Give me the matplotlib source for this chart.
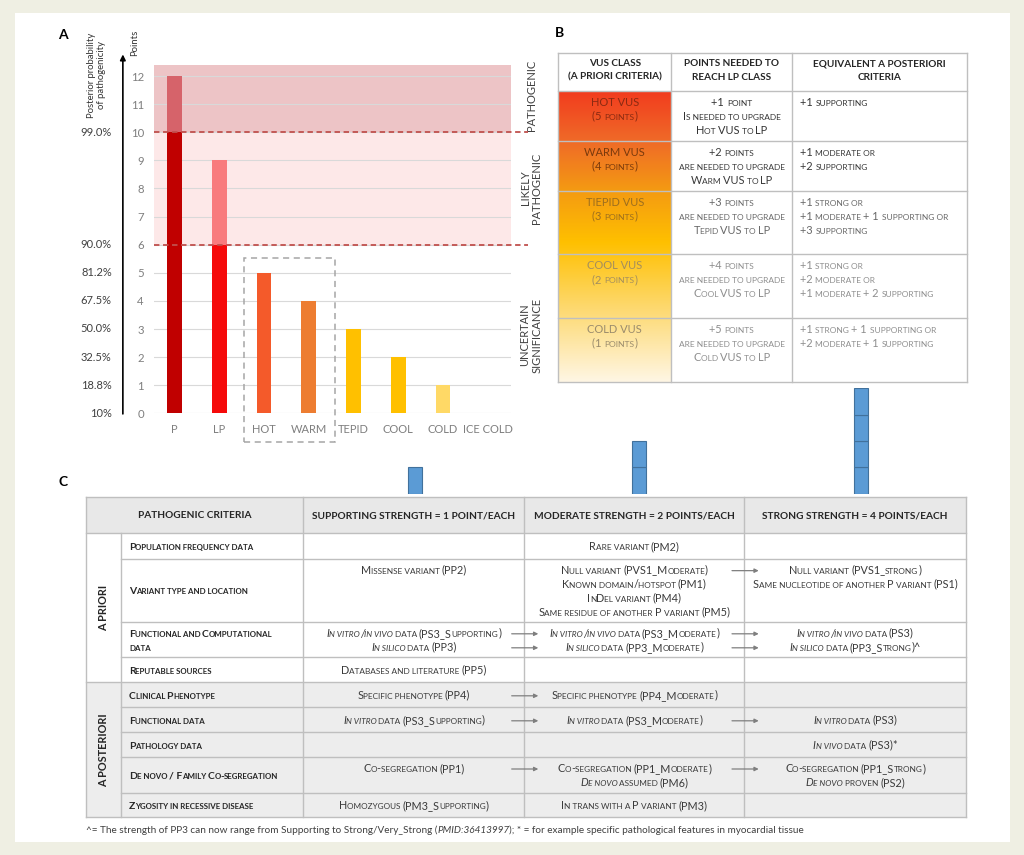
import matplotlib
matplotlib.use("Agg")
import matplotlib.pyplot as plt
import numpy as np
from matplotlib.colors import LinearSegmentedColormap
from matplotlib.patches import Rectangle
from matplotlib.transforms import blended_transform_factory, offset_copy
from matplotlib.font_manager import FontProperties

FAMILY = "Lato"
plt.rcParams['font.family'] = [FAMILY, 'DejaVu Sans']

# ---------------------------------------------------------------------------
#  DATA  -  panel A (points per class)
# ---------------------------------------------------------------------------
classes      = ["P", "LP", "HOT", "WARM", "TEPID", "COOL", "COLD", "ICE COLD"]
base_points  = [10, 6, 5, 4, 3, 2, 1, 0]
extra_points = [2, 3, 0, 0, 0, 0, 0, 0]
base_colors  = ["#C00000", "#F50A0A", "#F45A2A", "#ED7D31", "#FFC000", "#FFC000", "#FFD966", "#FFFFFF"]
extra_colors = ["#D6636A", "#F87B7D", "none", "none", "none", "none", "none", "none"]
point_ticks  = list(range(13))
prob_at      = [0, 1, 2, 3, 4, 5, 6, 10]
prob_labels  = ["10%", "18.8%", "32.5%", "50.0%", "67.5%", "81.2%", "90.0%", "99.0%"]
lp_cut, p_cut, y_top = 6, 10, 12.4

# points per evidence strength (blue blocks above table C)
strength_points = [1, 2, 4]

# ---------------------------------------------------------------------------
#  DATA  -  panel B
# ---------------------------------------------------------------------------
b_header = [["VUS CLASS", "(A PRIORI CRITERIA)"],
            ["POINTS NEEDED TO", "REACH LP CLASS"],
            ["EQUIVALENT A POSTERIORI", "CRITERIA"]]
b_class = [["HOT VUS", "(5 points)"], ["WARM VUS", "(4 points)"], ["TIEPID VUS", "(3 points)"],
           ["COOL VUS", "(2 points)"], ["COLD VUS", "(1 points)"]]
b_needed = [["+1 point", "Is needed to upgrade", "Hot VUS to LP"],
            ["+2 points", "are needed to upgrade", "Warm VUS to LP"],
            ["+3 points", "are needed to upgrade", "Tepid VUS to LP"],
            ["+4 points", "are needed to upgrade", "Cool VUS to LP"],
            ["+5 points", "are needed to upgrade", "Cold VUS to LP"]]
b_equiv = [["+1 supporting"],
           ["+1 moderate or", "+2 supporting"],
           ["+1 strong or", "+1 moderate + 1 supporting or", "+3 supporting"],
           ["+1 strong or", "+2 moderate or", "+1 moderate + 2 supporting"],
           ["+1 strong + 1 supporting or", "+2 moderate + 1 supporting"]]
b_class_colors = ["#8A2A12", "#7A3A0C", "#9C6E1E", "#A38E5E", "#9A8B6C"]
b_text_colors  = ["#333333", "#3A3A3A", "#686868", "#8E8E8E", "#8E8E8E"]

# ---------------------------------------------------------------------------
#  DATA  -  panel C  ({...} = italic)
# ---------------------------------------------------------------------------
c_header = ["PATHOGENIC CRITERIA", "SUPPORTING STRENGTH = 1 POINT/EACH",
            "MODERATE STRENGTH = 2 POINTS/EACH", "STRONG STRENGTH = 4 POINTS/EACH"]
c_labels = [["Population frequency data"], ["Variant type and location"],
            ["Functional and Computational", "data"], ["Reputable sources"],
            ["Clinical Phenotype"], ["Functional data"], ["Pathology data"],
            ["De novo / Family Co-segregation"], ["Zygosity in recessive disease"]]
c_support = [[], ["Missense variant (PP2)"],
             ["{In vitro/in vivo} data (PS3_Supporting)", "{In silico} data (PP3)"],
             ["Databases and literature (PP5)"], ["Specific phenotype (PP4)"],
             ["{In vitro} data (PS3_Supporting)"], [], ["Co-segregation (PP1)"],
             ["Homozygous (PM3_Supporting)"]]
c_moderate = [["Rare variant (PM2)"],
              ["Null variant (PVS1_Moderate)", "Known domain/hotspot (PM1)", "InDel variant (PM4)",
               "Same residue of another P variant (PM5)"],
              ["{In vitro/in vivo} data (PS3_Moderate)", "{In silico} data (PP3_Moderate)"],
              [], ["Specific phenotype (PP4_Moderate)"], ["{In vitro} data (PS3_Moderate)"], [],
              ["Co-segregation (PP1_Moderate)", "{De novo} assumed (PM6)"],
              ["In trans with a P variant (PM3)"]]
c_strong = [[], ["Null variant (PVS1_strong)", "Same nucleotide of another P variant (PS1)"],
            ["{In vitro/in vivo} data (PS3)", "{In silico} data (PP3_Strong)^"],
            [], [], ["{In vitro} data (PS3)"], ["{In vivo} data (PS3)*"],
            ["Co-segregation (PP1_Strong)", "{De novo} proven (PS2)"], []]
# arrows: (row, line, 0 = supporting->moderate / 1 = moderate->strong)
c_arrows = [(1, 0, 1), (2, 0, 0), (2, 0, 1), (2, 1, 0), (2, 1, 1), (4, 0, 0),
            (5, 0, 0), (5, 0, 1), (7, 0, 0), (7, 0, 1)]
footnote = ("^= The strength of PP3 can now range from Supporting to Strong/Very_Strong "
            "({PMID:36413997}); * = for example specific pathological features in myocardial tissue")

# ---------------------------------------------------------------------------
#  FIGURE + pixel overlay
# ---------------------------------------------------------------------------
W, H = 1024, 855
fig = plt.figure(figsize=(W / 100, H / 100), dpi=100, facecolor="#EFEFE3")
ov = fig.add_axes([0, 0, 1, 1])
ov.set_xlim(0, W)
ov.set_ylim(H, 0)
ov.axis("off")
ov.add_patch(Rectangle((15, 13), 995, 829, fc="white", ec="none", zorder=0))
renderer = fig.canvas.get_renderer()

# ---------------------------------------------------------------------------
#  helper: small caps text (lower case letters drawn as smaller capitals)
# ---------------------------------------------------------------------------
SC = 0.76


def advance(t, size, weight, style):
    # pen advance of t as the renderer lays it out, in points
    prop = FontProperties(family=FAMILY, size=size, weight=weight, style=style)
    w1 = renderer.get_text_width_height_descent("I" + t + "I", prop, ismath=False)[0]
    w0 = renderer.get_text_width_height_descent("II", prop, ismath=False)[0]
    return (w1 - w0) * 72 / fig.dpi


def sc_text(ax, x, y, s, size=7.0, color="#404040", weight="normal", ha="center", smallcaps=True):
    runs, italic = [], False
    for ch in s:
        if ch == "{":
            italic = True
            continue
        if ch == "}":
            italic = False
            continue
        small = smallcaps and ch.islower()
        key = (small, italic)
        c = ch.upper() if small else ch
        if runs and (runs[-1][0] == key or ch == " "):
            runs[-1][1] += c
        else:
            runs.append([key, c])
    parts = []
    for (sm, it), t in runs:
        sz = size * (SC if sm else 1.0)
        st = "italic" if it else "normal"
        parts.append((t, sz, st, advance(t, sz, weight, st) - 0.15))
    total = sum(p[3] for p in parts)
    off = {"left": 0.0, "center": -total / 2, "right": -total}[ha]
    yb = y + 0.36 * size * 100 / 72
    for t, sz, st, w in parts:
        tr = offset_copy(ax.transData, fig=ax.figure, x=off, y=0, units="points")
        ax.text(x, yb, t, transform=tr, fontsize=sz, fontweight=weight, fontstyle=st,
                color=color, ha="left", va="baseline", zorder=6)
        off += w


for lab, (lx, ly) in zip("ABC", [(63, 35), (560, 33), (63, 482)]):
    ov.text(lx, ly, lab, fontsize=10, fontweight="bold", ha="center", va="center")

# ---------------------------------------------------------------------------
#  PANEL A
# ---------------------------------------------------------------------------
px_y0, px_per = 413.3, 28.1
axA = fig.add_axes([153.6 / W, (H - px_y0) / H, 357.4 / W, y_top * px_per / H])
axA.set_facecolor("none")
x = np.arange(len(classes))
axA.axhspan(p_cut, y_top, color="#EDC4C6", zorder=0, lw=0)
axA.axhspan(lp_cut, p_cut, color="#FDE8E8", zorder=0, lw=0)
axA.bar(x, base_points, width=0.33, color=base_colors, zorder=3)
axA.bar(x, extra_points, bottom=base_points, width=0.33, color=extra_colors, zorder=3)
for lvl in (lp_cut, p_cut):
    axA.axhline(lvl, xmin=0, xmax=1.048, color="#C0504D", ls=(0, (3, 2)), lw=1.3, clip_on=False, zorder=4)
axA.set_xlim(-0.47, 7.52)
axA.set_ylim(0, y_top)
axA.set_yticks(point_ticks)
axA.set_xticks(x)
axA.set_xticklabels(classes)
axA.grid(axis="y", color="#D9D9D9", lw=0.8, zorder=1)
axA.set_axisbelow(True)
for sp in axA.spines.values():
    sp.set_visible(False)
axA.tick_params(length=0, labelsize=8.2, labelcolor="#7F7F7F")
axA.tick_params(axis="y", pad=7)
axA.tick_params(axis="x", pad=8, labelsize=8)
axA.add_patch(Rectangle((1.54, -1.01), 2.04, 6.54, fill=False, ls=(0, (4, 3)), ec="#A6A6A6",
                        lw=1.1, clip_on=False, zorder=5))
bl = blended_transform_factory(axA.transAxes, axA.transData)
for v, s in zip(prob_at, prob_labels):
    axA.text(-0.117, v, s, transform=bl, ha="right", va="center", fontsize=8, color="#404040")
axA.annotate("", xy=(-0.086, 12.87), xytext=(-0.086, -0.12), xycoords=bl, textcoords=bl,
             arrowprops=dict(arrowstyle="-|>", color="black", lw=1.2, mutation_scale=8),
             annotation_clip=False)
ov.text(96.7, 75, "Posterior probability\nof pathogenicity", rotation=90, ha="center", va="center",
        fontsize=6.8, color="#333333", linespacing=1.1)
ov.text(135, 43, "Points", rotation=90, ha="center", va="center", fontsize=6.8, color="#333333")
ov.text(531, 95, "PATHOGENIC", rotation=90, ha="center", va="center", fontsize=8, color="#404040")
ov.text(531, 188, "LIKELY\nPATHOGENIC", rotation=90, ha="center", va="center", fontsize=8,
        color="#404040", linespacing=1.1)
ov.text(531, 335, "UNCERTAIN\nSIGNIFICANCE", rotation=90, ha="center", va="center", fontsize=8,
        color="#404040", linespacing=1.1)

# ---------------------------------------------------------------------------
#  PANEL B
# ---------------------------------------------------------------------------
bx = [558.3, 671, 792.3, 966.7]
by = [52.7, 90.7, 140.7, 190.7, 254, 317.7, 381.7]
grad = LinearSegmentedColormap.from_list("vus", [
    (0.0, "#F23C1E"), (0.17, "#EF6A28"), (0.34, "#F49A12"), (0.52, "#FFC000"),
    (0.74, "#FDD86C"), (1.0, "#FFF6E4")])
ov.imshow(np.linspace(0, 1, 256).reshape(-1, 1), cmap=grad, aspect="auto",
          extent=[bx[0], bx[1], by[-1], by[1]], zorder=1, interpolation="bilinear")
lc = "#BFBFBF"
for yy in by:
    ov.plot([bx[0], bx[-1]], [yy, yy], color=lc, lw=1, zorder=2)
for xx in bx:
    ov.plot([xx, xx], [by[0], by[-1]], color=lc, lw=1, zorder=2)
b_centers = [614.7, 731.7]
for j, lines in enumerate(b_header):
    cx = (bx[j] + bx[j + 1]) / 2
    for k, s in enumerate(lines):
        ov.text(cx, 63.5 + 13.5 * k, s, ha="center", va="center", fontsize=7.2,
                fontweight="bold", color="#262626")
for i in range(5):
    top = by[i + 1]
    for k, s in enumerate(b_class[i]):
        sc_text(ov, b_centers[0], top + 11 + 14 * k, s, size=8.0, color=b_class_colors[i])
    for k, s in enumerate(b_needed[i]):
        sc_text(ov, b_centers[1], top + 11 + 14 * k, s, size=7.9, color=b_text_colors[i])
    for k, s in enumerate(b_equiv[i]):
        sc_text(ov, 800, top + 11 + 14 * k, s, size=7.9, color=b_text_colors[i], ha="left")

# blue blocks: one block per point
axS = fig.add_axes([0, (H - 494) / H, 1, 106 / H])
axS.set_facecolor("none")
axS.set_xlim(0, W)
axS.set_ylim(0, 4)
axS.axis("off")
strength_x = [415.3, 638.7, 861.3]
for sx, n in zip(strength_x, strength_points):
    axS.bar([sx] * n, [1] * n, bottom=list(range(n)), width=14, color="#5B9BD5",
            edgecolor="#41719C", lw=0.8)

# ---------------------------------------------------------------------------
#  PANEL C
# ---------------------------------------------------------------------------
cx_ = [86, 121, 303.3, 524.3, 744.3, 966]
cy_ = [497.3, 533.3, 559, 622.3, 657.3, 682.3, 707.3, 732.3, 757.3, 792.7, 817.3]
ov.add_patch(Rectangle((cx_[0], cy_[0]), cx_[-1] - cx_[0], cy_[1] - cy_[0], fc="#E8E8E8", ec="none", zorder=1))
ov.add_patch(Rectangle((cx_[0], cy_[5]), cx_[-1] - cx_[0], cy_[-1] - cy_[5], fc="#EDEDED", ec="none", zorder=1))
for yy in cy_:
    x0 = cx_[0] if yy in (cy_[0], cy_[1], cy_[5], cy_[-1]) else cx_[1]
    ov.plot([x0, cx_[-1]], [yy, yy], color=lc, lw=1, zorder=2)
for xx in cx_:
    y0 = cy_[1] if xx == cx_[1] else cy_[0]
    ov.plot([xx, xx], [y0, cy_[-1]], color=lc, lw=1, zorder=2)
hc = [(cx_[0] + cx_[2]) / 2, (cx_[2] + cx_[3]) / 2, (cx_[3] + cx_[4]) / 2, (cx_[4] + cx_[5]) / 2]
for cxx, s in zip(hc, c_header):
    ov.text(cxx, 515.5, s, ha="center", va="center", fontsize=7.3, fontweight="bold", color="#262626")
ov.text(103.3, (cy_[1] + cy_[5]) / 2, "A PRIORI", rotation=90, ha="center", va="center",
        fontsize=7.8, fontweight="bold", color="#262626")
ov.text(103.3, (cy_[5] + cy_[-1]) / 2, "A POSTERIORI", rotation=90, ha="center", va="center",
        fontsize=7.8, fontweight="bold", color="#262626")
line_y = {}
for r in range(9):
    mid = (cy_[r + 1] + cy_[r + 2]) / 2
    nl = len(c_labels[r])
    for k, s in enumerate(c_labels[r]):
        sc_text(ov, 129, mid - (nl - 1) * 7 + 14 * k, s, size=7.5, color="#262626",
                weight="bold", ha="left")
    nmax = max(len(c_support[r]), len(c_moderate[r]), len(c_strong[r]), 1)
    ys = [mid - (nmax - 1) * 7 + 14 * k for k in range(nmax)]
    line_y[r] = ys
    for col, cells in zip(hc[1:], (c_support[r], c_moderate[r], c_strong[r])):
        for k, s in enumerate(cells):
            sc_text(ov, col, ys[k], s, size=7.8, color="#3A3A3A")
arrow_x = [(511.7, 538.3), (732, 758.7)]
for r, k, which in c_arrows:
    a0, a1 = arrow_x[which]
    yy = line_y[r][k] + 1
    ov.annotate("", xy=(a1, yy), xytext=(a0, yy),
                arrowprops=dict(arrowstyle="-|>", color="#7F7F7F", lw=0.9, mutation_scale=6,
                                shrinkA=0, shrinkB=0))
sc_text(ov, 86, 829, footnote, size=7.2, color="#404040", ha="left", smallcaps=False)

fig.savefig("out.png", dpi=100, facecolor=fig.get_facecolor())
